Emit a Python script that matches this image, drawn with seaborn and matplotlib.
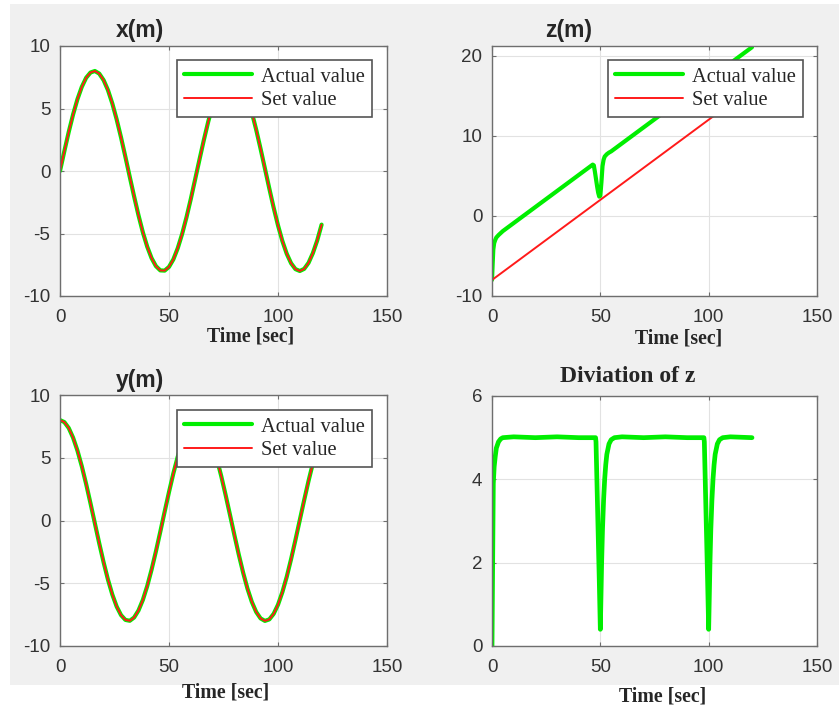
# Position / deviation tracking plots (MATLAB-style 2x2 layout)
import matplotlib
matplotlib.use("Agg")
import matplotlib.pyplot as plt
from matplotlib.patches import Rectangle
import seaborn as sns

sns.set_style("whitegrid")
plt.rcParams['font.family'] = ['Liberation Sans', 'DejaVu Sans']
plt.rcParams['axes.unicode_minus'] = False

# ---------------- data ----------------
t_xy = list(range(0, 121, 2))

x_set = [0.00, 1.59, 3.12, 4.52, 5.74, 6.73, 7.46, 7.88, 8.00, 7.79,
         7.27, 6.47, 5.40, 4.12, 2.68, 1.13, -0.47, -2.04, -3.54, -4.90,
         -6.05, -6.97, -7.61, -7.95, -7.97, -7.67, -7.07, -6.18, -5.05, -3.72,
         -2.24, -0.66, 0.93, 2.49, 3.95, 5.26, 6.35, 7.19, 7.74, 7.99,
         7.92, 7.53, 6.84, 5.88, 4.68, 3.30, 1.78, 0.20, -1.39, -2.93,
         -4.35, -5.60, -6.62, -7.38, -7.85, -8.00, -7.83, -7.35, -6.57, -5.55, -4.29]
x_actual = list(x_set)   # actual and set traces overlap within the line width

y_set = [8.00, 7.84, 7.37, 6.60, 5.57, 4.32, 2.90, 1.36, -0.23, -1.82,
         -3.33, -4.71, -5.90, -6.86, -7.54, -7.92, -7.99, -7.73, -7.17, -6.33,
         -5.23, -3.92, -2.46, -0.90, 0.70, 2.27, 3.75, 5.08, 6.20, 7.08,
         7.68, 7.97, 7.95, 7.60, 6.96, 6.03, 4.87, 3.51, 2.01, 0.43,
         -1.16, -2.71, -4.15, -5.43, -6.49, -7.29, -7.80, -8.00, -7.88, -7.44,
         -6.71, -5.71, -4.49, -3.08, -1.55, 0.04, 1.62, 3.15, 4.56, 5.76, 6.75]
y_actual = list(y_set)

t_zset = [0, 20, 40, 60, 80, 100, 120]
z_set = [-8.0, -4.0, 0.0, 4.0, 8.0, 12.0, 16.0]

t_z = [0, 0.3, 0.6, 1.0, 1.5, 2.0, 3.0, 4.0, 5.0, 10, 20, 30, 40,
       46.5, 47.0, 47.5, 48.0, 48.5, 49.0, 49.5, 50.0, 50.5, 51.0, 51.5, 52.0, 53.0, 54.0, 55.0,
       60, 70, 80, 90,
       96.5, 97.0, 97.5, 98.0, 98.5, 99.0, 99.5, 100.0, 100.5, 101.0, 101.5, 102.0, 103.0,
       104.0, 105.0, 110, 120]
z_actual = [-8.0, -6.0, -4.2, -3.4, -3.0, -2.7, -2.4, -2.15, -1.9, -0.9, 1.1, 3.1, 5.1,
            6.4, 6.3, 5.5, 4.6, 3.7, 2.9, 2.4, 2.5, 4.2, 6.2, 7.0, 7.4, 7.7, 7.9, 8.05,
            9.05, 11.05, 13.05, 15.05,
            16.35, 16.3, 15.6, 14.9, 14.2, 13.6, 13.1, 13.0, 14.4, 16.2, 17.0, 17.4, 17.7,
            17.9, 18.05, 19.05, 21.05]

t_dev = [0, 0.3, 0.6, 1.0, 1.5, 2.0, 3.0, 4.0, 5.0, 10, 20, 30, 40,
         47.8, 48.0, 48.5, 49.0, 49.5, 50.0, 50.3, 50.6, 51.0, 51.5, 52.0, 52.5, 53.0, 54.0,
         55.0, 56.5, 60, 70, 80, 90,
         97.8, 98.0, 98.5, 99.0, 99.5, 100.0, 100.3, 100.6, 101.0, 101.5, 102.0, 102.5, 103.0,
         104.0, 105.0, 106.5, 110, 120]
dev_z = [0.0, 2.0, 3.9, 4.3, 4.55, 4.75, 4.9, 4.97, 5.0, 5.02, 5.0, 5.02, 5.0,
         5.0, 4.9, 3.8, 2.7, 1.6, 0.4, 1.2, 2.0, 2.8, 3.5, 4.0, 4.35, 4.6, 4.85,
         4.95, 5.0, 5.02, 5.0, 5.02, 5.0,
         5.0, 4.9, 3.8, 2.7, 1.6, 0.4, 1.2, 2.0, 2.8, 3.5, 4.0, 4.35, 4.6,
         4.85, 4.95, 5.0, 5.02, 5.0]

GREEN = '#00ee00'
RED = '#ff1a1a'
EDGE = '#6e6e6e'

# ---------------- figure ----------------
fig = plt.figure(figsize=(8.39, 7.09), dpi=100, facecolor='white')
fig.patches.append(Rectangle((10 / 839, 1 - 685 / 709), 1 - 10 / 839, (685 - 4) / 709,
                             transform=fig.transFigure, facecolor='#f0f0f0',
                             edgecolor='none', zorder=-10))


def make_axes(left, top, right, bottom):
    return fig.add_axes([left / 839, 1 - bottom / 709, (right - left) / 839, (bottom - top) / 709])


ax_x = make_axes(60, 46, 387, 296)
ax_z = make_axes(492, 46, 817, 296)
ax_y = make_axes(60, 395, 387, 646)
ax_d = make_axes(492, 396, 817, 646)


def style_axes(ax, ylim, yticks):
    ax.set_xlim(0, 150)
    ax.set_xticks([0, 50, 100, 150])
    ax.set_ylim(*ylim)
    ax.set_yticks(yticks)
    ax.set_facecolor('white')
    ax.grid(True, color='#e2e2e2', linewidth=0.8)
    for s in ax.spines.values():
        s.set_visible(True)
        s.set_color(EDGE)
        s.set_linewidth(1.0)
    ax.tick_params(direction='in', length=3, width=0.8, color=EDGE,
                   bottom=True, left=True, top=True, right=True,
                   labelsize=13.5, labelcolor='#333333')
    ax.tick_params(axis='x', pad=9)
    ax.tick_params(axis='y', pad=7)
    ax.set_xlabel('')
    ax.set_ylabel('')


def add_legend(ax, x_anchor, y_anchor):
    leg = ax.legend(loc='upper right', bbox_to_anchor=(x_anchor, y_anchor),
                    prop={'family': 'Liberation Serif', 'size': 14.8},
                    handlelength=3.3, handletextpad=0.45, borderpad=0.35,
                    labelspacing=0.2, borderaxespad=0, fancybox=False,
                    framealpha=1, edgecolor='#555555')
    leg.get_frame().set_linewidth(1.2)


def add_title(ax, x, y, text, serif=False, size=16.5):
    ax.text(x, y, text, transform=ax.transAxes, ha='center', va='center',
            fontsize=size, fontweight='bold',
            family='Liberation Serif' if serif else 'Liberation Sans')


def add_xlabel(ax, x, y):
    ax.text(x, y, 'Time [sec]', transform=ax.transAxes, ha='center', va='center',
            fontsize=14.3, fontweight='bold', family='Liberation Serif')


# x(m)
sns.lineplot(x=t_xy, y=x_actual, ax=ax_x, color=GREEN, linewidth=3.0, label='Actual value')
sns.lineplot(x=t_xy, y=x_set, ax=ax_x, color=RED, linewidth=1.4, label='Set value')
style_axes(ax_x, (-10, 10), [-10, -5, 0, 5, 10])
add_legend(ax_x, 0.954, 0.944)
add_title(ax_x, 0.245, 1.06, 'x(m)')
add_xlabel(ax_x, 0.584, -0.164)

# z(m)
sns.lineplot(x=t_z, y=z_actual, ax=ax_z, color=GREEN, linewidth=3.0, label='Actual value')
sns.lineplot(x=t_zset, y=z_set, ax=ax_z, color=RED, linewidth=1.4, label='Set value')
style_axes(ax_z, (-10, 21.2), [-10, 0, 10, 20])
add_legend(ax_z, 0.957, 0.944)
add_title(ax_z, 0.237, 1.06, 'z(m)')
add_xlabel(ax_z, 0.575, -0.168)

# y(m)
sns.lineplot(x=t_xy, y=y_actual, ax=ax_y, color=GREEN, linewidth=3.0, label='Actual value')
sns.lineplot(x=t_xy, y=y_set, ax=ax_y, color=RED, linewidth=1.4, label='Set value')
style_axes(ax_y, (-10, 10), [-10, -5, 0, 5, 10])
add_legend(ax_y, 0.954, 0.940)
add_title(ax_y, 0.245, 1.056, 'y(m)')
add_xlabel(ax_y, 0.508, -0.187)

# deviation of z
sns.lineplot(x=t_dev, y=dev_z, ax=ax_d, color=GREEN, linewidth=3.4, legend=False)
style_axes(ax_d, (0, 6), [0, 2, 4, 6])
add_title(ax_d, 0.418, 1.076, 'Diviation of z', serif=True, size=17)
add_xlabel(ax_d, 0.526, -0.204)

fig.savefig('out.png', dpi=100, facecolor=fig.get_facecolor())
